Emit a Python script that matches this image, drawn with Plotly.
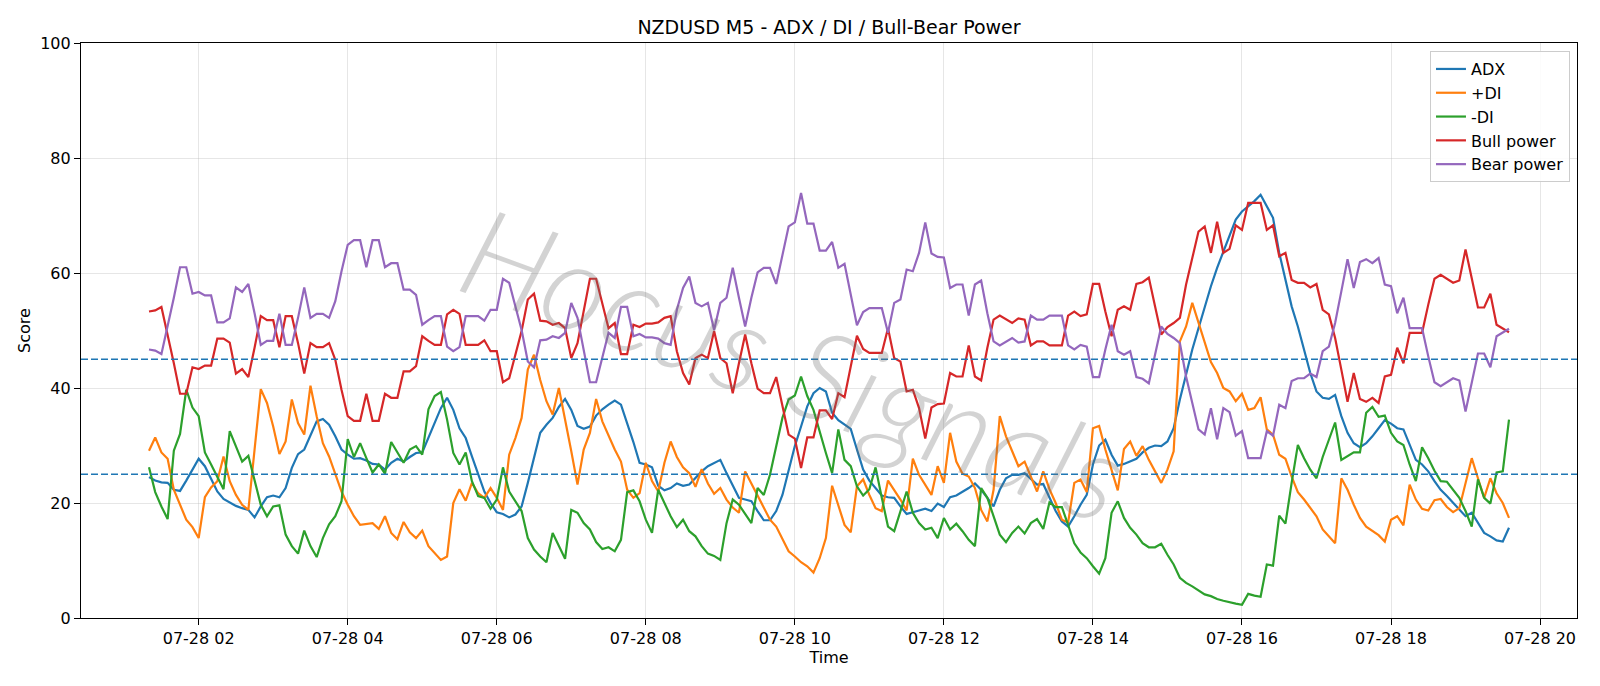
import pandas as pd
import plotly.graph_objects as go

# ---- data (5-minute bars) ----
start_time = "2025-07-28 01:20"
n_points = 220
times = pd.date_range(start_time, periods=n_points, freq="5min")

adx = [
    24.5, 23.9, 23.6, 23.5, 22.3, 22.1, 23.9, 25.8, 27.7, 26.4, 24.3, 22.0, 20.7, 20.1, 19.5, 19.1, 18.8, 17.5, 19.4, 21.0, 21.3, 21.0, 22.6, 26.1, 28.5, 29.3, 31.6, 34.2,
    34.6, 33.6, 31.6, 29.3, 28.4, 27.7, 27.8, 27.4, 26.8, 26.7, 25.8, 27.0, 27.7, 27.2, 28.0, 28.7, 28.8, 31.3, 33.9, 36.5, 38.3, 36.2, 33.0, 31.3, 28.1, 24.9, 22.0, 20.0,
    18.4, 18.1, 17.5, 18.0, 19.4, 23.5, 28.1, 32.2, 33.6, 34.8, 36.7, 38.1, 36.2, 33.4, 32.9, 33.3, 35.2, 36.3, 37.1, 37.8, 37.1, 33.9, 30.6, 27.0, 26.7, 26.2, 23.0, 22.2,
    22.6, 23.4, 23.0, 23.2, 24.3, 25.5, 26.4, 27.0, 27.5, 25.2, 22.9, 20.9, 20.6, 20.3, 18.6, 17.0, 17.0, 18.6, 21.4, 25.5, 29.9, 33.3, 36.8, 39.1, 40.0, 39.4, 35.7, 34.4,
    33.6, 32.9, 29.3, 25.8, 23.9, 22.6, 21.3, 21.0, 20.9, 19.4, 18.1, 18.4, 18.7, 19.0, 18.6, 19.9, 19.3, 21.0, 21.3, 21.9, 22.6, 23.4, 22.3, 20.9, 19.4, 22.3, 24.3, 24.9, 24.9,
    25.2, 24.2, 23.2, 23.3, 20.9, 18.6, 16.8, 15.9, 17.7, 19.7, 21.4, 26.7, 30.0, 31.0, 28.4, 26.5, 26.8, 27.2, 27.7, 28.8, 29.6, 30.0, 29.9, 30.7, 33.0, 38.0, 42.6,
    46.7, 50.4, 54.2, 57.7, 60.9, 63.8, 66.7, 69.3, 70.7, 71.6, 72.5, 73.6, 71.6, 69.6, 63.5, 58.8, 54.2, 50.7, 46.7, 42.6, 39.4, 38.3, 38.1, 38.8, 35.1, 32.2, 30.4, 29.7,
    30.4, 31.6, 33.0, 34.4, 33.8, 33.0, 32.8, 30.1, 27.5, 26.7, 25.5, 23.8, 22.3, 21.2, 20.0, 18.8, 17.7, 18.3, 16.5, 14.8, 14.2, 13.5, 13.3, 15.7,
]

plus_di = [
    29.1, 31.4, 28.8, 27.7, 22.3, 19.7, 17.1, 15.8, 13.9, 21.0, 22.7, 23.8, 28.1, 23.8, 21.4, 19.7, 18.8, 29.3, 39.8, 37.4, 33.3, 28.5, 30.7, 38.0, 33.9, 31.9, 40.4, 35.1,
    30.4, 28.1, 24.9, 22.0, 19.7, 17.7, 16.2, 16.4, 16.5, 15.5, 17.7, 14.8, 13.7, 16.7, 14.9, 13.9, 15.2, 12.5, 11.2, 10.1, 10.7, 20.0, 22.4, 20.4, 23.5, 21.7, 20.9, 22.6,
    20.9, 18.8, 28.4, 31.3, 34.8, 43.2, 45.8, 41.4, 37.7, 35.4, 40.0, 34.8, 29.0, 23.2, 29.3, 32.2, 38.1, 34.2, 31.6, 29.3, 27.2, 22.3, 20.9, 21.7, 27.0, 23.8, 22.0, 27.0,
    30.7, 28.0, 26.2, 25.2, 22.8, 25.9, 23.4, 21.6, 22.6, 20.6, 19.2, 18.3, 25.5, 23.4, 21.3, 19.4, 17.1, 15.9, 13.6, 11.6, 10.7, 9.7, 9.0, 7.9, 10.4, 13.9, 23.0, 19.4,
    16.2, 14.9, 22.9, 24.1, 21.4, 19.1, 18.6, 23.9, 22.3, 20.6, 18.7, 27.7, 24.9, 23.2, 21.4, 26.4, 23.5, 32.2, 27.2, 25.1, 24.6, 22.6, 18.8, 16.8, 22.3, 35.1, 31.6, 29.0, 26.4,
    27.2, 24.6, 22.0, 25.5, 22.4, 20.0, 17.1, 16.6, 23.5, 24.1, 21.9, 33.0, 33.4, 29.3, 25.8, 22.2, 29.4, 30.7, 28.2, 29.9, 27.5, 25.5, 23.5, 25.8, 29.0, 48.1, 50.7,
    54.8, 51.3, 47.8, 44.5, 42.6, 40.0, 39.4, 37.7, 39.0, 36.2, 36.5, 38.4, 32.8, 31.9, 28.4, 27.7, 24.6, 21.9, 20.6, 19.1, 17.7, 15.4, 14.2, 13.0, 24.3, 22.3, 19.7, 17.4,
    15.9, 15.1, 14.4, 13.3, 17.1, 17.7, 16.1, 23.2, 20.6, 19.0, 18.7, 20.5, 20.7, 19.3, 18.4, 19.1, 23.2, 27.8, 24.3, 20.9, 24.3, 21.7, 20.0, 17.4,
]

minus_di = [
    26.2, 21.9, 19.4, 17.2, 29.1, 32.0, 39.7, 36.6, 35.1, 28.8, 26.7, 24.6, 22.4, 32.5, 29.9, 27.2, 28.2, 23.8, 19.7, 17.7, 19.4, 19.6, 14.5, 12.5, 11.2, 15.2, 12.5, 10.6,
    13.9, 16.3, 17.7, 20.3, 31.1, 28.0, 30.4, 27.8, 25.3, 26.7, 25.1, 30.6, 28.7, 27.0, 29.3, 29.9, 28.4, 36.3, 38.6, 39.3, 34.5, 28.7, 26.7, 28.8, 23.8, 21.2, 20.9, 19.0,
    20.6, 26.2, 22.0, 20.4, 18.6, 13.9, 11.9, 10.7, 9.7, 14.8, 12.5, 10.3, 18.8, 18.3, 16.5, 15.4, 13.2, 12.0, 12.3, 11.6, 13.6, 21.9, 22.2, 20.3, 17.1, 14.8, 22.3, 20.0,
    17.7, 15.8, 17.1, 15.1, 14.2, 12.5, 11.2, 10.8, 10.1, 16.5, 20.6, 19.7, 18.0, 16.5, 22.6, 21.4, 24.9, 29.9, 34.8, 38.0, 38.7, 42.0, 38.6, 36.2, 32.2, 28.7, 25.2, 32.8,
    27.5, 26.4, 22.9, 21.3, 22.4, 26.2, 20.9, 15.9, 15.1, 18.6, 22.0, 18.3, 16.5, 15.4, 15.7, 13.9, 17.4, 15.4, 16.4, 15.1, 13.6, 12.5, 22.6, 20.9, 17.7, 14.5, 13.2, 14.8, 15.9,
    14.7, 16.5, 17.2, 15.5, 20.1, 19.3, 19.3, 16.2, 13.0, 11.4, 10.4, 9.0, 7.7, 10.4, 18.3, 20.3, 17.4, 15.7, 14.5, 13.0, 12.3, 12.3, 12.9, 11.0, 9.3, 7.0, 6.1,
    5.5, 4.8, 4.1, 3.8, 3.3, 3.0, 2.7, 2.5, 2.3, 4.2, 3.9, 3.7, 9.3, 9.1, 17.8, 16.4, 23.5, 30.1, 27.8, 25.8, 24.3, 28.0, 31.0, 34.0, 27.5, 28.1, 28.8, 28.8,
    35.7, 36.7, 35.0, 35.2, 32.2, 30.7, 30.1, 26.7, 23.8, 29.7, 27.8, 25.6, 23.8, 23.7, 22.4, 20.9, 18.6, 15.9, 24.1, 20.9, 19.9, 25.3, 25.5, 34.5,
]

bull_power = [
    53.3, 53.5, 54.1, 49.3, 44.3, 39.0, 39.0, 43.6, 43.3, 43.9, 43.9, 48.6, 48.6, 47.9, 42.5, 43.3, 41.9, 47.0, 52.5, 51.8, 51.8, 47.1, 52.5, 52.5, 47.8, 42.5, 47.8, 47.1,
    47.1, 47.8, 44.9, 39.7, 35.1, 34.3, 34.3, 39.0, 34.3, 34.3, 39.0, 38.3, 38.3, 42.9, 42.9, 43.8, 49.0, 48.2, 47.5, 47.5, 52.8, 53.6, 52.9, 47.5, 47.5, 47.5, 48.3, 46.4,
    46.4, 41.0, 41.7, 45.8, 49.9, 55.4, 56.4, 51.7, 51.6, 51.0, 51.3, 50.4, 45.2, 47.8, 53.3, 59.0, 59.0, 54.8, 50.4, 51.3, 45.9, 45.9, 51.0, 50.6, 51.2, 51.2, 51.4, 52.2,
    52.5, 46.4, 42.6, 40.6, 45.2, 45.8, 45.2, 49.9, 45.2, 44.3, 39.1, 44.3, 49.3, 44.3, 39.9, 39.1, 39.1, 41.9, 36.8, 31.9, 31.2, 26.1, 31.4, 31.4, 36.1, 36.1, 34.6, 39.1,
    38.4, 43.8, 49.1, 46.8, 46.1, 46.1, 46.1, 50.4, 45.2, 44.6, 39.4, 39.7, 36.5, 31.2, 36.6, 37.2, 37.3, 42.6, 42.0, 42.0, 47.4, 42.0, 41.3, 47.0, 51.9, 52.6, 51.9, 51.3, 52.1,
    51.9, 47.4, 48.1, 48.1, 47.4, 47.4, 47.4, 52.6, 53.3, 52.5, 52.8, 58.1, 58.1, 53.3, 49.0, 53.6, 54.2, 53.6, 58.1, 58.4, 59.2, 54.2, 49.3, 50.6, 51.3, 52.2, 58.0,
    62.6, 67.2, 68.1, 63.5, 68.9, 63.5, 64.2, 68.3, 67.5, 72.2, 72.2, 72.2, 67.5, 68.3, 62.9, 63.5, 58.8, 58.3, 58.3, 57.5, 58.1, 53.6, 52.8, 48.7, 43.2, 37.6, 42.6, 38.1,
    37.6, 38.3, 37.4, 42.0, 42.3, 47.0, 44.3, 49.6, 49.6, 49.6, 54.5, 59.0, 59.7, 59.0, 58.3, 58.7, 64.1, 59.1, 54.0, 54.0, 56.4, 51.0, 50.4, 49.7,
]

bear_power = [
    46.7, 46.5, 45.9, 50.7, 55.7, 61.0, 61.0, 56.4, 56.7, 56.1, 56.1, 51.4, 51.4, 52.1, 57.5, 56.7, 58.1, 53.0, 47.5, 48.2, 48.2, 52.9, 47.5, 47.5, 52.2, 57.5, 52.2, 52.9,
    52.9, 52.2, 55.1, 60.3, 64.9, 65.7, 65.7, 61.0, 65.7, 65.7, 61.0, 61.7, 61.7, 57.1, 57.1, 56.2, 51.0, 51.8, 52.5, 52.5, 47.2, 46.4, 47.1, 52.5, 52.5, 52.5, 51.7, 53.6,
    53.6, 59.0, 58.3, 54.2, 50.1, 44.6, 43.6, 48.3, 48.4, 49.0, 48.7, 49.6, 54.8, 52.2, 46.7, 41.0, 41.0, 45.2, 49.6, 48.7, 54.1, 54.1, 49.0, 49.4, 48.8, 48.8, 48.6, 47.8,
    47.5, 53.6, 57.4, 59.4, 54.8, 54.2, 54.8, 50.1, 54.8, 55.7, 60.9, 55.7, 50.7, 55.7, 60.1, 60.9, 60.9, 58.1, 63.2, 68.1, 68.8, 73.9, 68.6, 68.6, 63.9, 63.9, 65.4, 60.9,
    61.6, 56.2, 50.9, 53.2, 53.9, 53.9, 53.9, 49.6, 54.8, 55.4, 60.6, 60.3, 63.5, 68.8, 63.4, 62.8, 62.7, 57.4, 58.0, 58.0, 52.6, 58.0, 58.7, 53.0, 48.1, 47.4, 48.1, 48.7, 47.9,
    48.1, 52.6, 51.9, 51.9, 52.6, 52.6, 52.6, 47.4, 46.7, 47.5, 47.2, 41.9, 41.9, 46.7, 51.0, 46.4, 45.8, 46.4, 41.9, 41.6, 40.8, 45.8, 50.7, 49.4, 48.7, 47.8, 42.0,
    37.4, 32.8, 31.9, 36.5, 31.1, 36.5, 35.8, 31.7, 32.5, 27.8, 27.8, 27.8, 32.5, 31.7, 37.1, 36.5, 41.2, 41.7, 41.7, 42.5, 41.9, 46.4, 47.2, 51.3, 56.8, 62.4, 57.4, 61.9,
    62.4, 61.7, 62.6, 58.0, 57.7, 53.0, 55.7, 50.4, 50.4, 50.4, 45.5, 41.0, 40.3, 41.0, 41.7, 41.3, 35.9, 40.9, 46.0, 46.0, 43.6, 49.0, 49.6, 50.3,
]

threshold_levels = [25, 45]
tick_times = ["2025-07-28 02:00", "2025-07-28 04:00", "2025-07-28 06:00", "2025-07-28 08:00",
              "2025-07-28 10:00", "2025-07-28 12:00", "2025-07-28 14:00", "2025-07-28 16:00",
              "2025-07-28 18:00", "2025-07-28 20:00"]
tick_labels = ["07-28 02", "07-28 04", "07-28 06", "07-28 08", "07-28 10",
               "07-28 12", "07-28 14", "07-28 16", "07-28 18", "07-28 20"]
y_ticks = [0, 20, 40, 60, 80, 100]

series = [
    ("ADX", adx, "#1f77b4"),
    ("+DI", plus_di, "#ff7f0e"),
    ("-DI", minus_di, "#2ca02c"),
    ("Bull power", bull_power, "#d62728"),
    ("Bear power", bear_power, "#9467bd"),
]

FONT = "DejaVu Sans"
FS = 16
fig = go.Figure()
for name, vals, color in series:
    fig.add_trace(go.Scatter(x=times, y=vals, mode="lines", name=name,
                             line=dict(color=color, width=2.2)))

for lvl in threshold_levels:
    fig.add_shape(type="line", xref="x domain", yref="y", x0=0, x1=1, y0=lvl, y1=lvl,
                  line=dict(color="#1f77b4", width=1.5, dash="7px,3px"), layer="above")

span = times[-1] - times[0]
pad = span * 0.05
x_range = [times[0] - pad, times[-1] + pad]

grid_col = "rgba(176,176,176,0.32)"
fig.update_layout(
    width=1600, height=686,
    margin=dict(l=81, r=23, t=43, b=68),
    paper_bgcolor="white", plot_bgcolor="white",
    font=dict(family=FONT, size=FS, color="black"),
    title=dict(text="NZDUSD M5 - ADX / DI / Bull-Bear Power", x=0.5, xref="paper",
               xanchor="center", y=1 - 27 / 686, yanchor="middle",
               font=dict(family=FONT, size=19, color="black")),
    xaxis=dict(range=x_range, tickvals=pd.to_datetime(tick_times), ticktext=tick_labels,
               showgrid=True, gridcolor=grid_col, gridwidth=1,
               showline=True, mirror=True, linecolor="black", linewidth=1.2,
               ticks="outside", ticklen=6, tickwidth=1.2, tickcolor="black",
               tickfont=dict(size=FS), zeroline=False,
               title=dict(text="Time", font=dict(size=FS), standoff=3)),
    yaxis=dict(range=[0, 100], tickvals=y_ticks,
               showgrid=True, gridcolor=grid_col, gridwidth=1,
               showline=True, mirror=True, linecolor="black", linewidth=1.2,
               ticks="outside", ticklen=6, tickwidth=1.2, tickcolor="black",
               tickfont=dict(size=FS), zeroline=False, ticklabelstandoff=0,
               title=dict(text="Score", font=dict(size=FS), standoff=5)),
    legend=dict(x=0.9953, y=0.986, xanchor="right", yanchor="top",
                bgcolor="rgba(255,255,255,0.85)", bordercolor="#cccccc", borderwidth=1,
                font=dict(family=FONT, size=FS), tracegroupgap=0),
    showlegend=True,
)

fig.add_annotation(text="Hocus Signals", xref="paper", yref="paper",
                   x=0.4775, y=0.445, showarrow=False, textangle=20,
                   font=dict(family="Lato", size=124, weight=300,
                             color="rgba(110,110,110,0.30)", style="italic"))

fig.write_html("out.html")
